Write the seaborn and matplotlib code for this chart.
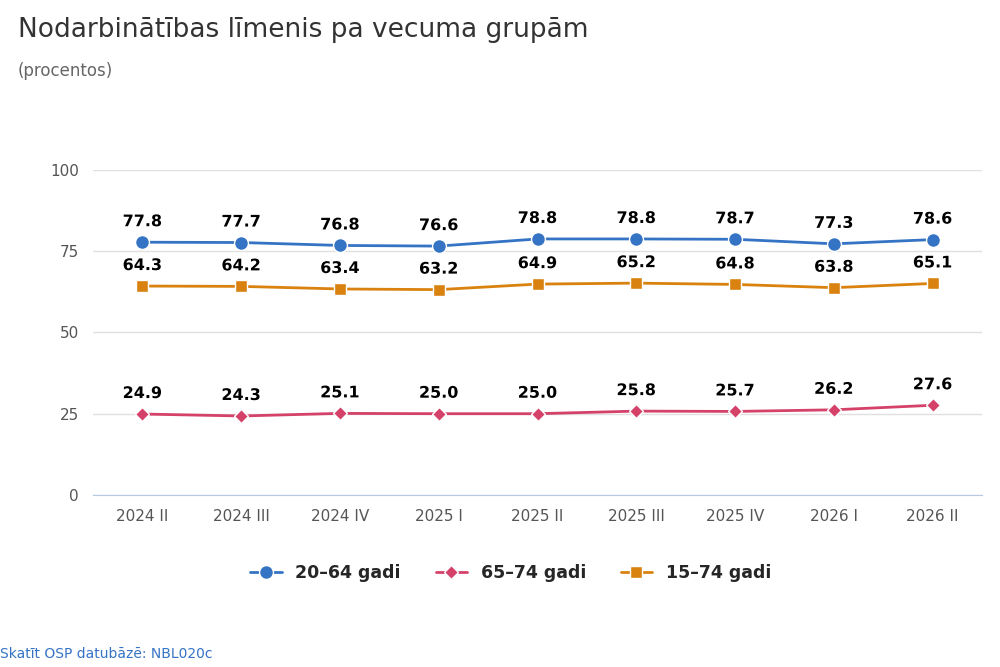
import pandas as pd
import seaborn as sns
import matplotlib.pyplot as plt
import matplotlib.patheffects as pe

quarters = ['2024 II', '2024 III', '2024 IV', '2025 I', '2025 II', '2025 III', '2025 IV', '2026 I', '2026 II']
age_20_64 = [77.8, 77.7, 76.8, 76.6, 78.8, 78.8, 78.7, 77.3, 78.6]
age_65_74 = [24.9, 24.3, 25.1, 25.0, 25.0, 25.8, 25.7, 26.2, 27.6]
age_15_74 = [64.3, 64.2, 63.4, 63.2, 64.9, 65.2, 64.8, 63.8, 65.1]

series = {'20–64 gadi': age_20_64, '65–74 gadi': age_65_74, '15–74 gadi': age_15_74}
colors = {'20–64 gadi': '#3574c4', '65–74 gadi': '#d4426a', '15–74 gadi': '#d9820f'}
markers = {'20–64 gadi': 'o', '65–74 gadi': 'D', '15–74 gadi': 's'}
msize = {'20–64 gadi': 10, '65–74 gadi': 7, '15–74 gadi': 9}

df = pd.DataFrame([
    {'x': i, 'quarter': q, 'value': v, 'group': name}
    for name, vals in series.items() for i, (q, v) in enumerate(zip(quarters, vals))
])

sns.set_style('white')
plt.rcParams['font.family'] = ['DejaVu Sans']

fig = plt.figure(figsize=(10, 6.67), dpi=100)
ax = fig.add_axes([0.093, 0.258, 0.889, 0.487])

for name in series:
    d = df[df['group'] == name]
    sns.lineplot(data=d, x='x', y='value', ax=ax, color=colors[name], linewidth=2,
                 marker=markers[name], markersize=msize[name], markeredgecolor='white',
                 markeredgewidth=1, label=name)
    for x, v in zip(d['x'], d['value']):
        ax.text(x, v + 4, f'{v:.1f}', ha='center', va='bottom', fontsize=11.5,
                fontweight='bold', color='black',
                path_effects=[pe.withStroke(linewidth=3, foreground='white')])

ax.set_xlim(-0.5, len(quarters) - 0.5)
ax.set_ylim(0, 100)
ax.set_yticks([0, 25, 50, 75, 100])
ax.set_xticks(range(len(quarters)))
ax.set_xticklabels(quarters)
ax.tick_params(axis='both', labelsize=11, colors='#555555', length=0, pad=10)
ax.grid(axis='y', color='#e0e0e0', linewidth=1)
for s in ['top', 'right', 'left']:
    ax.spines[s].set_visible(False)
ax.spines['bottom'].set_color('#b8c8e6')
ax.set_xlabel('')
ax.set_ylabel('')

ax.legend(loc='upper center', bbox_to_anchor=(0.47, -0.165), ncol=3, frameon=False,
          prop={'weight': 'bold', 'size': 12.5}, handlelength=1.8, columnspacing=2)

fig.text(0.018, 0.955, 'Nodarbinātības līmenis pa vecuma grupām', fontsize=19, color='#333333', va='center')
fig.text(0.018, 0.893, '(procentos)', fontsize=12, color='#666666', va='center')
fig.text(0.0, 0.02, 'Skatīt OSP datubāzē: NBL020c', fontsize=10, color='#3574c4', va='center')

fig.savefig('out.png', dpi=100)
